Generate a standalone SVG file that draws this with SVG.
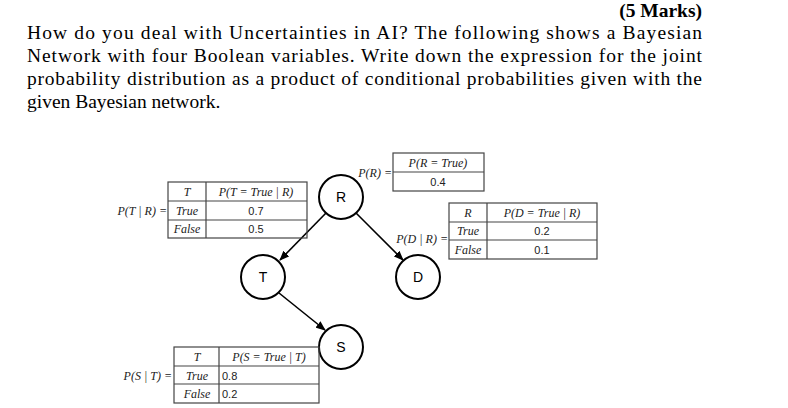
<svg xmlns="http://www.w3.org/2000/svg" width="788" height="408" viewBox="0 0 788 408">
<style>
.p{font-family:"Liberation Serif",serif;font-size:19.5px;fill:#000}
.m{font-family:"Liberation Serif",serif;font-style:italic;font-size:12px;fill:#222}
.n{font-family:"Liberation Sans",sans-serif;font-size:11px;fill:#222}
.c{font-family:"Liberation Sans",sans-serif;font-size:14px;fill:#000}
.t{fill:none;stroke:#444;stroke-width:1.2}
.nd{fill:#fff;stroke:#000;stroke-width:2}
.e{stroke:#000;stroke-width:1.6;marker-end:url(#a)}
</style>
<defs><marker id="a" markerWidth="10" markerHeight="8" refX="9" refY="4" orient="auto" markerUnits="userSpaceOnUse"><path d="M0,0L10,4L0,8z" fill="#000"/></marker></defs>
<rect width="788" height="408" fill="#fff"/>
<text class="p" x="702" y="17" text-anchor="end" font-weight="bold">(5 Marks)</text>
<text class="p" x="27" y="39" textLength="675" lengthAdjust="spacing">How do you deal with Uncertainties in AI? The following shows a Bayesian</text>
<text class="p" x="27" y="62" textLength="675" lengthAdjust="spacing">Network with four Boolean variables. Write down the expression for the joint</text>
<text class="p" x="27" y="85" textLength="675" lengthAdjust="spacing">probability distribution as a product of conditional probabilities given with the</text>
<text class="p" x="27" y="108">given Bayesian network.</text>
<g id="connectors">
<line class="e" x1="326" y1="213" x2="280" y2="260"/>
<line class="e" x1="356" y1="213" x2="403" y2="260"/>
<line class="e" x1="279" y1="293" x2="325" y2="330"/>
</g>
<g id="R"><circle class="nd" cx="341" cy="197" r="22"/><text class="c" x="341" y="202" text-anchor="middle">R</text></g>
<g id="T"><circle class="nd" cx="263" cy="277" r="22"/><text class="c" x="263" y="282" text-anchor="middle">T</text></g>
<g id="D"><circle class="nd" cx="418" cy="277" r="22"/><text class="c" x="418" y="282" text-anchor="middle">D</text></g>
<g id="S"><circle class="nd" cx="341" cy="347" r="22"/><text class="c" x="341" y="352" text-anchor="middle">S</text></g>
<g id="tableR">
<text class="m" x="392" y="177" text-anchor="end">P(R) =</text>
<rect class="t" x="393" y="153" width="91" height="38"/><line class="t" x1="393" y1="172" x2="484" y2="172"/>
<text class="m" x="438" y="167" text-anchor="middle">P(R = True)</text>
<text class="n" x="438" y="186" text-anchor="middle">0.4</text>
</g>
<g id="tableT">
<text class="m" x="167" y="215" text-anchor="end">P(T | R) =</text>
<rect class="t" x="168" y="182" width="139" height="56"/>
<line class="t" x1="168" y1="201" x2="307" y2="201"/><line class="t" x1="168" y1="220" x2="307" y2="220"/><line class="t" x1="206" y1="182" x2="206" y2="238"/>
<text class="m" x="187" y="196" text-anchor="middle">T</text><text class="m" x="256" y="196" text-anchor="middle">P(T = True | R)</text>
<text class="m" x="187" y="215" text-anchor="middle">True</text><text class="n" x="256" y="215" text-anchor="middle">0.7</text>
<text class="m" x="187" y="233" text-anchor="middle">False</text><text class="n" x="256" y="233" text-anchor="middle">0.5</text>
</g>
<g id="tableD">
<text class="m" x="448" y="243" text-anchor="end">P(D | R) =</text>
<rect class="t" x="449" y="203" width="148" height="56"/>
<line class="t" x1="449" y1="222" x2="597" y2="222"/><line class="t" x1="449" y1="240" x2="597" y2="240"/><line class="t" x1="487" y1="203" x2="487" y2="259"/>
<text class="m" x="468" y="217" text-anchor="middle">R</text><text class="m" x="542" y="217" text-anchor="middle">P(D = True | R)</text>
<text class="m" x="468" y="235" text-anchor="middle">True</text><text class="n" x="542" y="235" text-anchor="middle">0.2</text>
<text class="m" x="468" y="254" text-anchor="middle">False</text><text class="n" x="542" y="254" text-anchor="middle">0.1</text>
</g>
<g id="tableS">
<text class="m" x="172" y="380" text-anchor="end">P(S | T) =</text>
<rect class="t" x="174" y="347" width="145" height="56"/>
<line class="t" x1="174" y1="366" x2="319" y2="366"/><line class="t" x1="174" y1="384" x2="319" y2="384"/><line class="t" x1="219" y1="347" x2="219" y2="403"/>
<text class="m" x="197" y="361" text-anchor="middle">T</text><text class="m" x="269" y="361" text-anchor="middle">P(S = True | T)</text>
<text class="m" x="197" y="380" text-anchor="middle">True</text><text class="n" x="222" y="380">0.8</text>
<text class="m" x="197" y="398" text-anchor="middle">False</text><text class="n" x="222" y="398">0.2</text>
</g>
</svg>
